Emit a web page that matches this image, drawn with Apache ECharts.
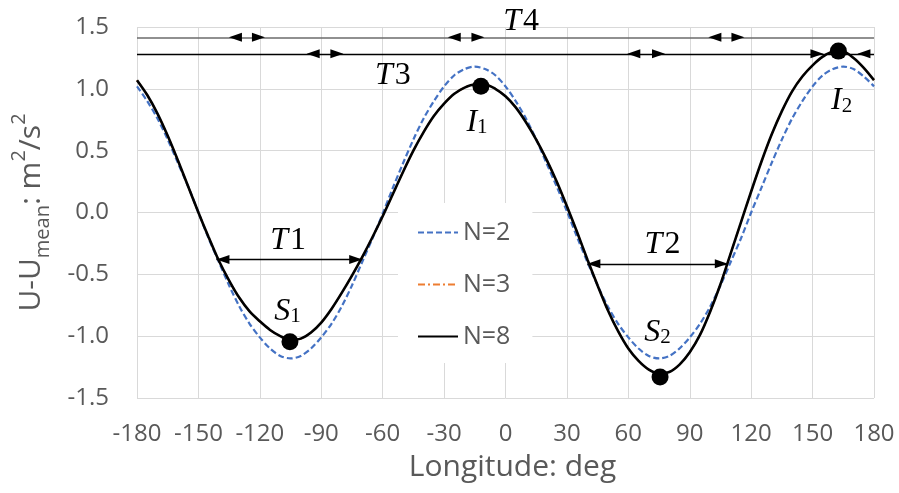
<!DOCTYPE html>
<html>
<head>
<meta charset="utf-8">
<script src="https://cdn.jsdelivr.net/npm/echarts@6/dist/echarts.min.js"></script>
<style>
html,body{margin:0;padding:0;background:#fff;}
#chart{width:899px;height:493px;}
</style>
</head>
<body>
<div id="chart"></div>
<script>
// Longitude (deg)
const longitude = [-180,-175,-170,-165,-160,-155,-150,-145,-140,-135,-130,-125,-120,-115,-110,-105,-100,-95,-90,-85,-80,-75,-70,-65,-60,-55,-50,-45,-40,-35,-30,-25,-20,-15,-10,-5,0,5,10,15,20,25,30,35,40,45,50,55,60,65,70,75,80,85,90,95,100,105,110,115,120,125,130,135,140,145,150,155,160,165,170,175,180];
// U - U_mean (m^2/s^2)
const n2Values = [1.02,0.90,0.76,0.59,0.40,0.21,0.00,-0.21,-0.40,-0.59,-0.76,-0.90,-1.01,-1.10,-1.16,-1.18,-1.16,-1.10,-1.01,-0.90,-0.76,-0.59,-0.40,-0.21,-0.01,0.20,0.40,0.59,0.76,0.90,1.02,1.11,1.16,1.18,1.16,1.11,1.02,0.90,0.76,0.59,0.40,0.21,0.01,-0.20,-0.40,-0.59,-0.76,-0.90,-1.01,-1.10,-1.16,-1.18,-1.16,-1.10,-1.01,-0.90,-0.76,-0.59,-0.40,-0.21,0.00,0.20,0.40,0.59,0.76,0.90,1.02,1.11,1.16,1.18,1.16,1.10,1.02];
const n3Values = [1.07,0.95,0.80,0.62,0.42,0.21,0.00,-0.20,-0.39,-0.55,-0.69,-0.80,-0.88,-0.95,-1.00,-1.03,-1.02,-0.97,-0.89,-0.78,-0.65,-0.51,-0.36,-0.20,-0.03,0.15,0.33,0.50,0.65,0.78,0.88,0.96,1.01,1.035,1.035,1.00,0.94,0.85,0.73,0.59,0.43,0.25,0.05,-0.16,-0.38,-0.59,-0.79,-0.96,-1.10,-1.20,-1.27,-1.30,-1.29,-1.23,-1.13,-0.99,-0.80,-0.58,-0.33,-0.08,0.17,0.41,0.63,0.82,0.98,1.10,1.19,1.26,1.30,1.30,1.25,1.17,1.07];
const n8Values = [1.07,0.95,0.80,0.62,0.42,0.21,0.00,-0.20,-0.39,-0.55,-0.69,-0.80,-0.88,-0.95,-1.00,-1.03,-1.02,-0.97,-0.89,-0.78,-0.65,-0.51,-0.36,-0.20,-0.03,0.15,0.33,0.50,0.65,0.78,0.88,0.96,1.01,1.035,1.035,1.00,0.94,0.85,0.73,0.59,0.43,0.25,0.05,-0.16,-0.38,-0.59,-0.79,-0.96,-1.10,-1.20,-1.27,-1.30,-1.29,-1.23,-1.13,-0.99,-0.80,-0.58,-0.33,-0.08,0.17,0.41,0.63,0.82,0.98,1.10,1.19,1.26,1.30,1.30,1.25,1.17,1.07];
const seriesNames = ['N=2','N=3','N=8'];

// Extremum points (longitude, value): S1, I1, S2, I2
const extremaNames = ['S1','I1','S2','I2'];
const extremaLon = [-105.3, -12, 75.5, 162.6];
const extremaVal = [-1.045, 1.02, -1.33, 1.305];

// Period annotation lines (data units)
const t4Level = 1.417, t3Level = 1.283, t1Level = -0.38, t2Level = -0.415;
const lineStartLon = -180, lineEndLon = 180;
const t1Span = [-141.2, -70.0];
const t2Span = [40.0, 108.6];
// arrow tips on long lines: [tipLon, direction] (-1 = points left, +1 = points right)
const t4Tips = [[-135.1,-1],[-117.5,1],[-28.2,-1],[-10.3,1],[99.1,-1],[116.7,1]];
const t3Tips = [[-97.1,-1],[-79.2,1],[59.5,-1],[77.9,1],[155.3,1],[171.9,-1]];

const grid = {left:137, right:25, top:27, bottom:95};
const chartW = 899, chartH = 493;
const degPerPx = 360 / (chartW - grid.left - grid.right);
const headLen = 13;
const headOffset = headLen / 2 * degPerPx;

const txtColor = '#595959';
const sans = 'Open Sans';
const serif = 'Liberation Serif';

function pairs(vals){ return longitude.map((x,i)=>[x, vals[i]]); }

function arrowHead(tipLon, dir, level){
  return {
    coord: [tipLon - dir*headOffset, level],
    symbol: 'triangle',
    symbolSize: [9, headLen],
    symbolRotate: dir < 0 ? 90 : -90,
    itemStyle: {color: '#000'},
    label: {show: false}
  };
}

const richMath = {
  it: {fontFamily: serif, fontStyle: 'italic', fontSize: 32, color: '#000', lineHeight: 32},
  n: {fontFamily: serif, fontSize: 32, color: '#000', lineHeight: 32, padding:[0,0,0,2]},
  sub: {fontFamily: serif, fontSize: 21, color: '#000', lineHeight: 10, verticalAlign: 'bottom'}
};

function textPoint(lon, val, text, offset){
  return {
    coord: [lon, val],
    symbol: 'circle',
    symbolSize: 1,
    itemStyle: {color: 'rgba(0,0,0,0)'},
    label: {show: true, position: 'inside', formatter: text, rich: richMath, offset: offset || [0,0]}
  };
}

const markPoints = [];
extremaLon.forEach((x,i)=>{
  markPoints.push({coord:[x, extremaVal[i]], symbol:'circle', symbolSize:17, itemStyle:{color:'#000'}, label:{show:false}});
});
t4Tips.forEach(t=>markPoints.push(arrowHead(t[0], t[1], t4Level)));
t3Tips.forEach(t=>markPoints.push(arrowHead(t[0], t[1], t3Level)));
markPoints.push(arrowHead(t1Span[0], -1, t1Level));
markPoints.push(arrowHead(t1Span[1], 1, t1Level));
markPoints.push(arrowHead(t2Span[0], -1, t2Level));
markPoints.push(arrowHead(t2Span[1], 1, t2Level));
// labels
markPoints.push(textPoint(-106.2, -0.226, '{it|T}{n|1}'));
markPoints.push(textPoint(76.7, -0.26, '{it|T}{n|2}'));
markPoints.push(textPoint(-55, 1.107, '{it|T}{n|3}'));
markPoints.push(textPoint(7.6, t4Level, '{it|T}{n|4}', [0,-16]));
markPoints.push(textPoint(-106.5, -0.80, '{it|S}{sub|1}'));
markPoints.push(textPoint(-13.9, 0.73, '{it|I}{sub|1}'));
markPoints.push(textPoint(74.3, -0.97, '{it|S}{sub|2}'));
markPoints.push(textPoint(164.2, 0.905, '{it|I}{sub|2}'));

const markLines = [
  [{coord:[lineStartLon, t4Level], lineStyle:{color:'#6b6b6b', width:1.6, type:'solid'}}, {coord:[lineEndLon, t4Level]}],
  [{coord:[lineStartLon, t3Level], lineStyle:{color:'#000', width:1.4, type:'solid'}}, {coord:[lineEndLon, t3Level]}],
  [{coord:[t1Span[0], t1Level], lineStyle:{color:'#000', width:1.4, type:'solid'}}, {coord:[t1Span[1], t1Level]}],
  [{coord:[t2Span[0], t2Level], lineStyle:{color:'#000', width:1.4, type:'solid'}}, {coord:[t2Span[1], t2Level]}]
];

const chart = echarts.init(document.getElementById('chart'), null, {renderer:'canvas'});
chart.setOption({
  animation: false,
  backgroundColor: '#fff',
  grid: grid,
  legend: {
    data: seriesNames,
    orient: 'vertical',
    left: 398, top: 203,
    padding: [17, 22, 14, 19],
    itemGap: 27,
    itemWidth: 40,
    itemHeight: 14,
    backgroundColor: '#fff',
    itemStyle: {opacity: 0},
    textStyle: {fontFamily: sans, fontSize: 25, color: txtColor},
    selectedMode: false
  },
  xAxis: {
    type: 'value', min: -180, max: 180, interval: 30,
    name: 'Longitude: deg', nameLocation: 'middle', nameGap: 54,
    nameTextStyle: {fontFamily: sans, fontSize: 30, color: txtColor, padding: [0,0,0,14]},
    axisLine: {show: false}, axisTick: {show: false},
    axisLabel: {fontFamily: sans, fontSize: 24, color: txtColor, margin: 24},
    splitLine: {show: true, lineStyle: {color: '#d9d9d9', width: 1}}
  },
  yAxis: {
    type: 'value', min: -1.5, max: 1.5, interval: 0.5,
    name: '{a|U-U}{s|mean}{a|: m}{p|2}{a|/s}{p|2}',
    nameLocation: 'middle', nameGap: 84, nameRotate: 90,
    nameTextStyle: {
      color: txtColor,
      rich: {
        a: {fontFamily: sans, fontSize: 30, color: txtColor, lineHeight: 32},
        s: {fontFamily: sans, fontSize: 20, color: txtColor, lineHeight: 14, verticalAlign: 'bottom'},
        p: {fontFamily: sans, fontSize: 20, color: txtColor, lineHeight: 44, verticalAlign: 'top'}
      }
    },
    axisLine: {show: false}, axisTick: {show: false},
    axisLabel: {fontFamily: sans, fontSize: 24, color: txtColor, margin: 28, formatter: v => v.toFixed(1)},
    splitLine: {show: true, lineStyle: {color: '#d9d9d9', width: 1}}
  },
  series: [
    {name: seriesNames[0], type: 'line', data: pairs(n2Values), symbol: 'none', smooth: 0.3,
     lineStyle: {color: '#4472C4', width: 2.2, type: [6, 3]}, itemStyle: {color: '#4472C4'}, z: 2},
    {name: seriesNames[1], type: 'line', data: pairs(n3Values), symbol: 'none', smooth: 0.3,
     lineStyle: {color: '#ED7D31', width: 1.8, type: [7, 3, 2, 3]}, itemStyle: {color: '#ED7D31'}, z: 3},
    {name: seriesNames[2], type: 'line', data: pairs(n8Values), symbol: 'none', smooth: 0.3, clip: false,
     lineStyle: {color: '#000', width: 2.6}, itemStyle: {color: '#000'}, z: 4,
     markLine: {silent: true, symbol: ['none','none'], label: {show: false}, animation: false,
       lineStyle: {type: 'solid'}, data: markLines},
     markPoint: {silent: true, animation: false, data: markPoints}
    }
  ]
});
</script>
</body>
</html>
